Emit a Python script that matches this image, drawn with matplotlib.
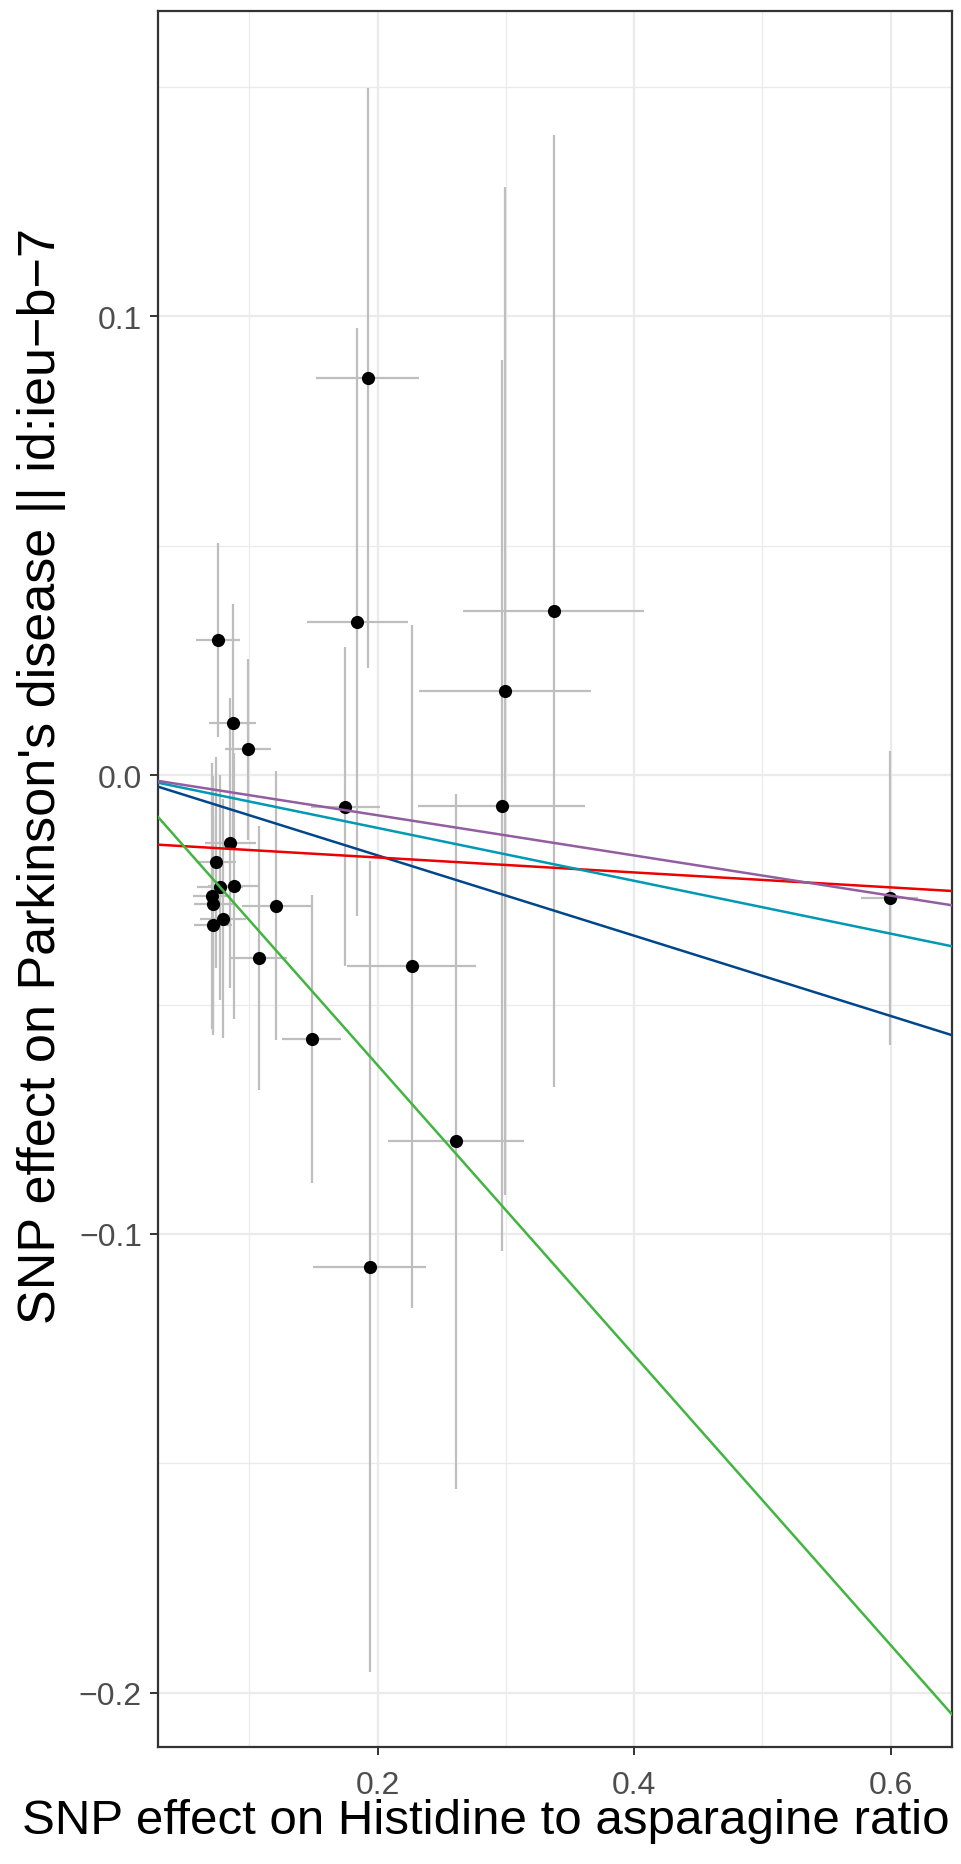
import matplotlib
matplotlib.use("Agg")
import matplotlib.pyplot as plt
from matplotlib.ticker import FixedLocator, FuncFormatter

plt.rcParams['font.family'] = ['Liberation Sans', 'DejaVu Sans']

# SNP effects on exposure (x) and outcome (y) with standard errors
snp_beta_exposure = [0.0758, 0.0870, 0.0990, 0.0743, 0.0854, 0.0773, 0.0878, 0.0711,
                     0.0721, 0.1211, 0.0797, 0.0719, 0.1076, 0.1487, 0.1748, 0.1844,
                     0.1922, 0.1939, 0.2266, 0.2610, 0.2969, 0.2993, 0.3375, 0.5991]
snp_beta_outcome = [0.0295, 0.0113, 0.0056, -0.0190, -0.0148, -0.0245, -0.0241, -0.0263,
                    -0.0281, -0.0285, -0.0313, -0.0326, -0.0399, -0.0575, -0.0069, 0.0334,
                    0.0865, -0.1071, -0.0417, -0.0798, -0.0067, 0.0183, 0.0357, -0.0268]
snp_se_exposure = [0.0169, 0.0186, 0.0178, 0.0153, 0.0195, 0.0180, 0.0197, 0.0150,
                   0.0150, 0.0270, 0.0180, 0.0150, 0.0218, 0.0230, 0.0270, 0.0394,
                   0.0402, 0.0438, 0.0500, 0.0530, 0.0650, 0.0670, 0.0706, 0.0220]
snp_se_outcome = [0.0211, 0.0260, 0.0198, 0.0230, 0.0317, 0.0246, 0.0290, 0.0290,
                  0.0280, 0.0293, 0.0260, 0.0240, 0.0288, 0.0314, 0.0347, 0.0641,
                  0.0632, 0.0884, 0.0744, 0.0757, 0.0971, 0.1099, 0.1037, 0.0320]

# MR method fits
methods = ["Inverse variance weighted", "MR Egger", "Simple mode", "Weighted median", "Weighted mode"]
method_slopes = [-0.0875, -0.0163, -0.316, -0.0576, -0.0438]
method_intercepts = [0.0, -0.0147, 0.0, 0.0, 0.0]
method_colors = ["#00468B", "#ED0000", "#42B540", "#0099B4", "#925E9F"]

x_major_ticks = [0.2, 0.4, 0.6]
x_minor_ticks = [0.1, 0.3, 0.5]
y_major_ticks = [0.1, 0.0, -0.1, -0.2]
y_minor_ticks = [0.15, 0.05, -0.05, -0.15]

xlabel = "SNP effect on Histidine to asparagine ratio"
ylabel = "SNP effect on Parkinson's disease || id:ieu\u2212b\u22127"

W, H = 961, 1865
fig = plt.figure(figsize=(W / 100, H / 100), dpi=100)
L, R, T, B = 158, 952, 12, 1748
ax = fig.add_axes([L / W, 1 - B / H, (R - L) / W, (B - T) / H])

ax.set_xlim(0.0289, 0.6478)
ax.set_ylim(-0.2118, 0.1665)

ax.set_facecolor('white')
ax.xaxis.set_major_locator(FixedLocator(x_major_ticks))
ax.xaxis.set_minor_locator(FixedLocator(x_minor_ticks))
ax.yaxis.set_major_locator(FixedLocator(y_major_ticks))
ax.yaxis.set_minor_locator(FixedLocator(y_minor_ticks))

def fmt(v, pos):
    s = f"{v:.1f}"
    if s.startswith('-'):
        s = '\u2212' + s[1:]
    if s == '\u22120.0':
        s = '0.0'
    return s

ax.xaxis.set_major_formatter(FuncFormatter(fmt))
ax.yaxis.set_major_formatter(FuncFormatter(fmt))

ax.grid(which='major', color='#EBEBEB', linewidth=1.6, zorder=0)
ax.grid(which='minor', color='#EBEBEB', linewidth=0.9, zorder=0)
ax.set_axisbelow(True)

ax.tick_params(which='major', length=5.5, width=1.4, color='#333333',
               labelsize=23, labelcolor='#4D4D4D')
ax.tick_params(axis='x', which='major', pad=11)
ax.tick_params(axis='y', which='major', pad=6)
ax.tick_params(which='minor', length=0)
for sp in ax.spines.values():
    sp.set_color('#333333')
    sp.set_linewidth(1.6)

ax.errorbar(snp_beta_exposure, snp_beta_outcome, yerr=snp_se_outcome,
            fmt='none', ecolor='#BEBEBE', elinewidth=1.6, capsize=0, zorder=2)
ax.errorbar(snp_beta_exposure, snp_beta_outcome, xerr=snp_se_exposure,
            fmt='none', ecolor='#BEBEBE', elinewidth=1.6, capsize=0, zorder=2)
ax.scatter(snp_beta_exposure, snp_beta_outcome, s=90, color='black', zorder=3,
           linewidths=0)

for m, b, c, lab in zip(method_slopes, method_intercepts, method_colors, methods):
    ax.axline((0, b), slope=m, color=c, linewidth=1.8, zorder=4, label=lab)

fig.text(22 / W, 1 - 1822 / H, xlabel, ha='left', va='center', fontsize=35.5, color='black')
fig.text(42 / W, 1 - 776 / H, ylabel, ha='center', va='center', rotation=90,
         fontsize=37.5, color='black')

fig.savefig('out.png', dpi=100, facecolor='white')
